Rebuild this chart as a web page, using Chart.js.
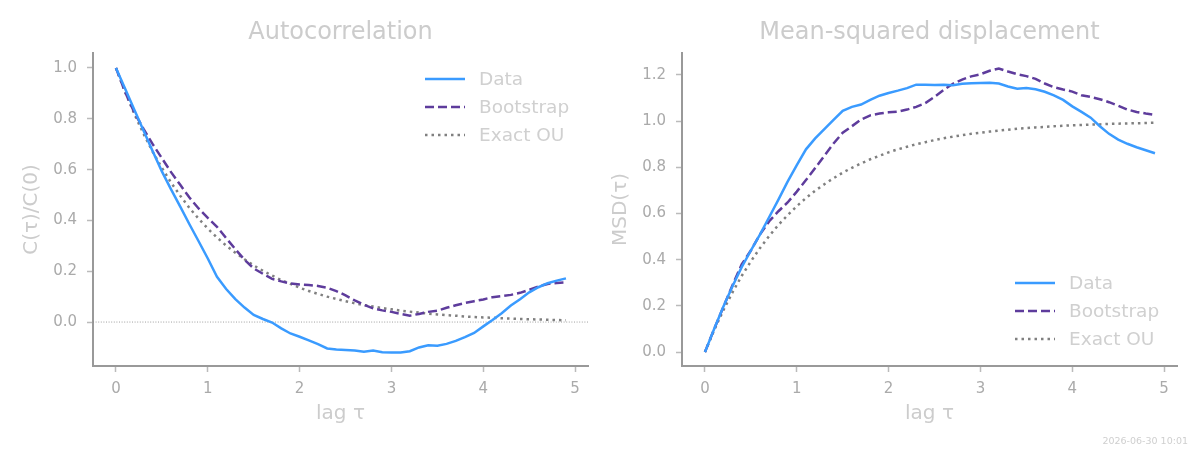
<html>
  <head>
    <script src="https://cdn.jsdelivr.net/npm/chart.js@4.4.1/dist/chart.umd.min.js"></script>
    <style>
      body { margin: 0; background: #fff; width: 1200px; height: 450px; overflow: hidden; position: relative; font-family: "DejaVu Sans", sans-serif; }
      .box { position: absolute; top: 0; width: 600px; height: 450px; }
      #stamp { position: absolute; right: 12px; top: 435px; font-size: 9.5px; color: #cfcfcf; }
    </style>
  </head>
  <body>
    <div class="box" style="left:0"><canvas id="acfChart" width="600" height="450"></canvas></div>
    <div class="box" style="left:589px"><canvas id="msdChart" width="600" height="450"></canvas></div>
    <div id="stamp">2026-06-30 10:01</div>

    <script>
      // lag values
      const tau = [0.0, 0.1, 0.2, 0.3, 0.4, 0.5, 0.6, 0.7, 0.8, 0.9,
                   1.0, 1.1, 1.2, 1.3, 1.4, 1.5, 1.6, 1.7, 1.8, 1.9,
                   2.0, 2.1, 2.2, 2.3, 2.4, 2.5, 2.6, 2.7, 2.8, 2.9,
                   3.0, 3.1, 3.2, 3.3, 3.4, 3.5, 3.6, 3.7, 3.8, 3.9,
                   4.0, 4.1, 4.2, 4.3, 4.4, 4.5, 4.6, 4.7, 4.8, 4.9];

      // autocorrelation
      const acfData = [1.000, 0.918, 0.836, 0.754, 0.672, 0.593, 0.522, 0.454, 0.385, 0.318,
                       0.250, 0.178, 0.130, 0.090, 0.057, 0.028, 0.012, -0.002, -0.025, -0.045,
                       -0.058, -0.072, -0.087, -0.104, -0.108, -0.110, -0.112, -0.117, -0.112, -0.119,
                       -0.120, -0.120, -0.115, -0.100, -0.091, -0.093, -0.086, -0.074, -0.059, -0.043,
                       -0.017, 0.008, 0.035, 0.065, 0.090, 0.117, 0.137, 0.153, 0.163, 0.172];
      const acfBoot = [1.000, 0.905, 0.825, 0.760, 0.700, 0.645, 0.590, 0.540, 0.490, 0.447,
                       0.410, 0.375, 0.330, 0.287, 0.245, 0.211, 0.190, 0.170, 0.160, 0.152,
                       0.148, 0.146, 0.142, 0.135, 0.122, 0.105, 0.085, 0.068, 0.054, 0.046,
                       0.040, 0.032, 0.025, 0.032, 0.040, 0.045, 0.056, 0.066, 0.075, 0.082,
                       0.089, 0.098, 0.102, 0.107, 0.115, 0.127, 0.140, 0.150, 0.154, 0.156];
      const acfOU = [1.000, 0.905, 0.819, 0.741, 0.670, 0.607, 0.549, 0.497, 0.449, 0.407,
                     0.368, 0.333, 0.301, 0.273, 0.247, 0.223, 0.202, 0.183, 0.165, 0.150,
                     0.135, 0.122, 0.111, 0.100, 0.091, 0.082, 0.074, 0.067, 0.061, 0.055,
                     0.050, 0.045, 0.041, 0.037, 0.033, 0.030, 0.027, 0.025, 0.022, 0.020,
                     0.018, 0.017, 0.015, 0.014, 0.012, 0.011, 0.010, 0.009, 0.008, 0.007];

      // mean-squared displacement
      const msdData = [0.000, 0.100, 0.196, 0.285, 0.368, 0.440, 0.510, 0.585, 0.660, 0.738,
                       0.810, 0.878, 0.925, 0.965, 1.005, 1.045, 1.062, 1.072, 1.092, 1.110,
                       1.122, 1.132, 1.143, 1.158, 1.158, 1.157, 1.158, 1.155, 1.162, 1.164,
                       1.165, 1.166, 1.163, 1.150, 1.140, 1.143, 1.138, 1.127, 1.112, 1.092,
                       1.064, 1.040, 1.015, 0.978, 0.945, 0.920, 0.902, 0.887, 0.874, 0.861];
      const msdBoot = [0.000, 0.100, 0.195, 0.290, 0.380, 0.440, 0.510, 0.567, 0.610, 0.648,
                       0.695, 0.745, 0.797, 0.850, 0.903, 0.950, 0.978, 1.007, 1.025, 1.033,
                       1.038, 1.041, 1.050, 1.062, 1.078, 1.105, 1.135, 1.162, 1.180, 1.194,
                       1.203, 1.218, 1.228, 1.215, 1.203, 1.195, 1.183, 1.163, 1.147, 1.137,
                       1.128, 1.112, 1.105, 1.095, 1.082, 1.067, 1.050, 1.040, 1.033, 1.027];
      const msdOU = [0.000, 0.095, 0.181, 0.259, 0.330, 0.393, 0.451, 0.503, 0.551, 0.593,
                     0.632, 0.667, 0.699, 0.727, 0.753, 0.777, 0.798, 0.817, 0.835, 0.850,
                     0.865, 0.878, 0.889, 0.900, 0.909, 0.918, 0.926, 0.933, 0.939, 0.945,
                     0.950, 0.955, 0.959, 0.963, 0.967, 0.970, 0.973, 0.975, 0.978, 0.980,
                     0.982, 0.983, 0.985, 0.986, 0.988, 0.989, 0.990, 0.991, 0.992, 0.993];

      const xTicks = [0, 1, 2, 3, 4, 5];
      const acfTicks = [0.0, 0.2, 0.4, 0.6, 0.8, 1.0];
      const msdTicks = [0.0, 0.2, 0.4, 0.6, 0.8, 1.0, 1.2];

      const seriesLabels = ['Data', 'Bootstrap', 'Exact OU'];

      function pts(ys) {
        return tau.map((t, i) => ({ x: t, y: ys[i] }));
      }

      function makeSets(a, b, c) {
        return [
          { label: seriesLabels[0], data: pts(a), borderColor: '#3a9bff', borderWidth: 2.5 },
          { label: seriesLabels[1], data: pts(b), borderColor: '#5e3c9c', borderWidth: 2.5, borderDash: [9, 4] },
          { label: seriesLabels[2], data: pts(c), borderColor: '#808080', borderWidth: 2.5, borderDash: [2.5, 4] }
        ];
      }

      // title centred over the plot area
      const areaTitle = {
        id: 'areaTitle',
        afterDraw(chart, args, opts) {
          const ctx = chart.ctx;
          const area = chart.chartArea;
          ctx.save();
          ctx.font = '24px "DejaVu Sans"';
          ctx.fillStyle = '#cccccc';
          ctx.textAlign = 'center';
          ctx.textBaseline = 'middle';
          ctx.fillText(opts.text, (area.left + area.right) / 2, 33);
          ctx.restore();
        }
      };

      // legend drawn inside the plot area
      const innerLegend = {
        id: 'innerLegend',
        afterDraw(chart, args, opts) {
          const ctx = chart.ctx;
          const area = chart.chartArea;
          const x0 = area.right - opts.right;
          let y = opts.top != null ? area.top + opts.top : area.bottom - opts.bottom - 56;
          ctx.save();
          ctx.font = '18.5px "DejaVu Sans"';
          ctx.textBaseline = 'middle';
          chart.data.datasets.forEach(ds => {
            ctx.strokeStyle = ds.borderColor;
            ctx.lineWidth = ds.borderWidth;
            ctx.setLineDash(ds.borderDash || []);
            ctx.beginPath();
            ctx.moveTo(x0, y);
            ctx.lineTo(x0 + 40, y);
            ctx.stroke();
            ctx.fillStyle = '#d0d0d0';
            ctx.fillText(ds.label, x0 + 54, y + 1);
            y += 28;
          });
          ctx.restore();
        }
      };

      // dotted line at zero
      const zeroLine = {
        id: 'zeroLine',
        beforeDatasetsDraw(chart, args, opts) {
          if (!opts.show) return;
          const ctx = chart.ctx;
          const yPix = chart.scales.y.getPixelForValue(0);
          ctx.save();
          ctx.strokeStyle = '#888';
          ctx.lineWidth = 0.8;
          ctx.setLineDash([1, 1.6]);
          ctx.beginPath();
          ctx.moveTo(chart.chartArea.left, yPix);
          ctx.lineTo(chart.chartArea.right, yPix);
          ctx.stroke();
          ctx.restore();
        }
      };

      function makeChart(id, title, yLabel, sets, yMin, yMax, yTicks, legendPos, showZero) {
        return new Chart(document.getElementById(id), {
          type: 'line',
          data: { datasets: sets },
          plugins: [areaTitle, innerLegend, zeroLine],
          options: {
            responsive: false,
            animation: false,
            layout: { padding: { left: 0, right: 12, top: 53, bottom: 0 } },
            elements: { point: { radius: 0 }, line: { tension: 0, fill: false } },
            plugins: {
              legend: { display: false },
              tooltip: { enabled: false },
              title: { display: false },
              areaTitle: { text: title },
              innerLegend: legendPos,
              zeroLine: { show: showZero }
            },
            scales: {
              x: {
                type: 'linear', min: -0.25, max: 5.14,
                afterBuildTicks: s => { s.ticks = xTicks.map(v => ({ value: v })); },
                afterFit: s => { s.height = 84; },
                grid: { display: true, drawOnChartArea: false, drawTicks: true, tickLength: 6, tickColor: '#bbbbbb', tickWidth: 1.5 },
                border: { display: true, color: '#999999', width: 2 },
                ticks: { color: '#aaaaaa', padding: 8, maxRotation: 0, font: { family: 'DejaVu Sans', size: 15 }, callback: v => String(v) },
                title: { display: true, text: 'lag τ', color: '#cccccc', font: { family: 'DejaVu Sans', size: 20 }, padding: { top: 0, bottom: 24 } }
              },
              y: {
                type: 'linear', min: yMin, max: yMax,
                afterBuildTicks: s => { s.ticks = yTicks.map(v => ({ value: v })); },
                afterFit: s => { s.width = 93; },
                grid: { display: true, drawOnChartArea: false, drawTicks: true, tickLength: 6, tickColor: '#bbbbbb', tickWidth: 1.5 },
                border: { display: true, color: '#999999', width: 2 },
                ticks: { color: '#aaaaaa', padding: 10, font: { family: 'DejaVu Sans', size: 15 }, callback: v => v.toFixed(1) },
                title: { display: true, text: yLabel, color: '#cccccc', font: { family: 'DejaVu Sans', size: 20 }, padding: { top: 20, bottom: 0 } }
              }
            }
          }
        });
      }

      makeChart('acfChart', 'Autocorrelation', 'C(τ)/C(0)', makeSets(acfData, acfBoot, acfOU),
                -0.173, 1.059, acfTicks, { top: 26, right: 163 }, true);
      makeChart('msdChart', 'Mean-squared displacement', 'MSD(τ)', makeSets(msdData, msdBoot, msdOU),
                -0.06, 1.295, msdTicks, { bottom: 27, right: 162 }, false);
    </script>
  </body>
</html>
